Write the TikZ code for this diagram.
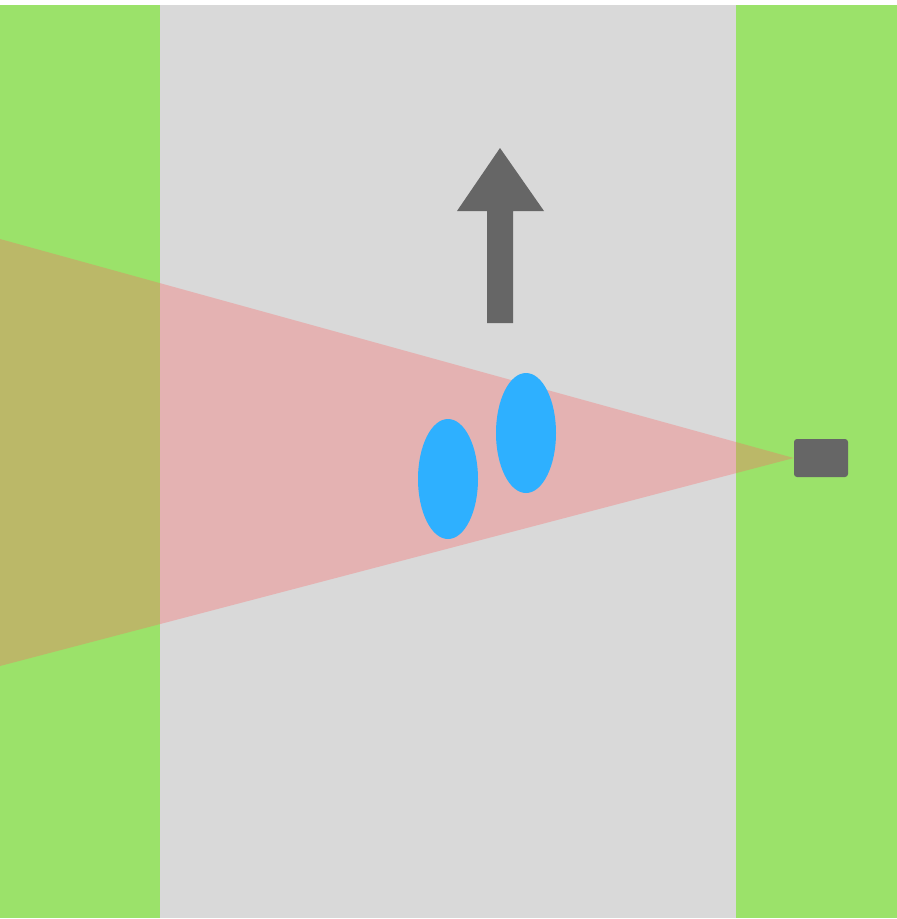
\documentclass[tikz,border=0pt]{standalone}
\usepackage{xcolor}
\usepackage{tikz}
\usetikzlibrary{shapes.geometric, positioning}
\definecolor{grass}{RGB}{155,226,106}
\definecolor{road}{RGB}{217,217,217}
\definecolor{beam}{RGB}{253,100,100}
\definecolor{person}{RGB}{46,176,255}
\definecolor{device}{RGB}{102,102,102}

\begin{document}
\begin{tikzpicture}[x=1pt, y=-1pt]
\useasboundingbox[fill=white] (0,0) rectangle (897,919);
\fill[grass] (0,5) rectangle (160,918);
\fill[road] (160,5) rectangle (736,918);
\fill[grass] (736,5) rectangle (897,918);
\node[rectangle, fill=device, rounded corners=3pt, minimum width=54pt, minimum height=38pt, inner sep=0pt] (sensor) at (821,458) {};
\coordinate (top) at (0,239);
\coordinate (bottom) at (0,666);
\fill[beam, opacity=0.33] (sensor.west) -- (top) -- (bottom) -- cycle;
\node[ellipse, fill=person, minimum width=60pt, minimum height=120pt, inner sep=0pt] (p1) at (448,479) {};
\node[ellipse, fill=person, minimum width=60pt, minimum height=120pt, inner sep=0pt] (p2) at (526,433) {};
\fill[device] (487,323) -- (487,211) -- (457,211) -- (500,148) -- (544,211) -- (513,211) -- (513,323) -- cycle;
    \end{tikzpicture}
\end{document}
